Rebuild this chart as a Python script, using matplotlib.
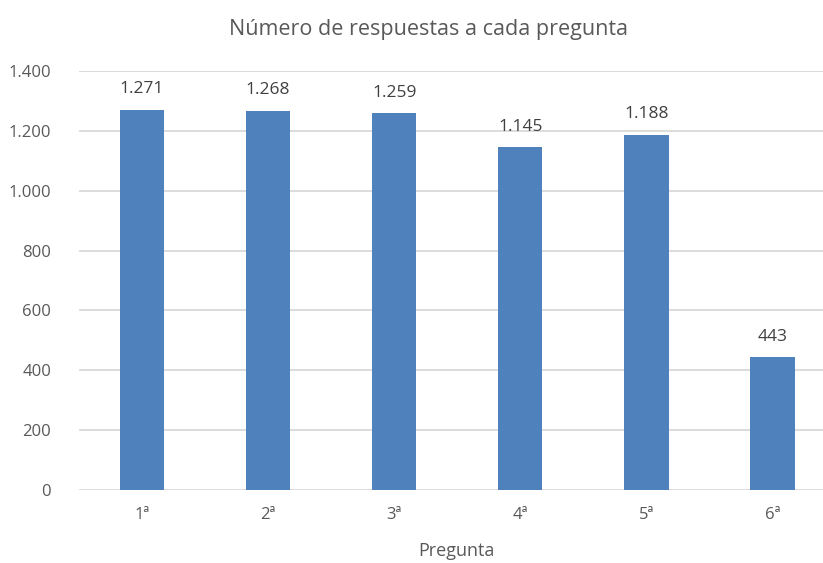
import matplotlib.pyplot as plt
from matplotlib.ticker import FuncFormatter

preguntas = ["1ª", "2ª", "3ª", "4ª", "5ª", "6ª"]
respuestas = [1271, 1268, 1259, 1145, 1188, 443]
y_ticks = [0, 200, 400, 600, 800, 1000, 1200, 1400]


def miles(v):
    return f"{int(v):,}".replace(",", ".")


plt.rcParams["font.family"] = ["Open Sans", "DejaVu Sans"]

fig = plt.figure(figsize=(8.23, 5.63), dpi=100)
ax = fig.add_axes([0.096, 0.1297, 0.904, 0.744])

x = range(len(preguntas))
bars = ax.bar(x, respuestas, width=0.35, color="#4F81BD", zorder=3)

for b, v in zip(bars, respuestas):
    ax.text(b.get_x() + b.get_width() / 2, v + 42, miles(v),
            ha="center", va="bottom", fontsize=12.5, color="#404040")

ax.set_ylim(0, 1400)
ax.set_xlim(-0.5, 5.4)
ax.set_yticks(y_ticks)
ax.yaxis.set_major_formatter(FuncFormatter(lambda v, p: miles(v)))
ax.set_xticks(list(x))
ax.set_xticklabels(preguntas)
ax.grid(axis="y", color="#D9D9D9", linewidth=1.3, zorder=0)
ax.tick_params(axis="both", length=0, labelsize=12, labelcolor="#595959")
ax.tick_params(axis="x", pad=12)
ax.tick_params(axis="y", pad=20)
for s in ax.spines.values():
    s.set_visible(False)

fig.text(0.521, 0.947, "Número de respuestas a cada pregunta",
         ha="center", va="center", fontsize=15.5, color="#595959")
fig.text(0.555, 0.022, "Pregunta", ha="center", va="center",
         fontsize=13, color="#595959")

fig.savefig("out.png", dpi=100)
